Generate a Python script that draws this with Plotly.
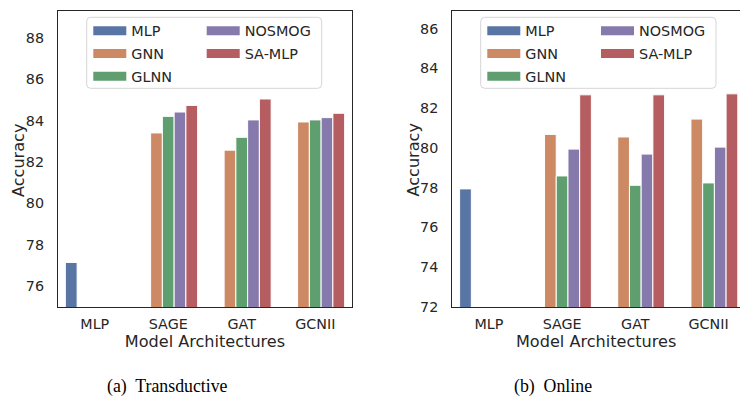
import plotly.graph_objects as go

# ---------------- data ----------------
categories = ["MLP", "SAGE", "GAT", "GCNII"]
methods = ["MLP", "GNN", "GLNN", "NOSMOG", "SA-MLP"]
colors = ["#5875a4", "#cc8963", "#5f9e6e", "#857aab", "#b55d60"]

trans_mlp = [77.15, None, None, None]
trans_gnn = [None, 83.40, 82.57, 83.93]
trans_glnn = [None, 84.20, 83.19, 84.03]
trans_nosmog = [None, 84.41, 84.03, 84.14]
trans_samlp = [None, 84.73, 85.04, 84.35]

online_mlp = [77.94, None, None, None]
online_gnn = [None, 80.68, 80.55, 81.45]
online_glnn = [None, 78.59, 78.12, 78.24]
online_nosmog = [None, 79.94, 79.69, 80.04]
online_samlp = [None, 82.67, 82.67, 82.72]

trans = [trans_mlp, trans_gnn, trans_glnn, trans_nosmog, trans_samlp]
online = [online_mlp, online_gnn, online_glnn, online_nosmog, online_samlp]

y_ticks_left = [76, 78, 80, 82, 84, 86, 88]
y_ticks_right = [72, 74, 76, 78, 80, 82, 84, 86]
captions = ["(a)  Transductive", "(b)  Online"]
x_title = "Model Architectures"
y_title = "Accuracy"

# ---------------- layout helpers ----------------
W, H = 740, 402
def px(x):
    return x / W
def py(y):
    return (H - y) / H

TXT = "#262626"
FONT = "DejaVu Sans"
FS_TICK = 14.3
FS_TITLE = 16.1
FS_LEG = 14.4

fig = go.Figure()

for i, m in enumerate(methods):
    fig.add_trace(go.Bar(x=categories, y=trans[i], name=m, marker=dict(color=colors[i], line=dict(color="white", width=1)),
                         xaxis="x", yaxis="y", showlegend=False, hoverinfo="skip"))
for i, m in enumerate(methods):
    fig.add_trace(go.Bar(x=categories, y=online[i], name=m, marker=dict(color=colors[i], line=dict(color="white", width=1)),
                         xaxis="x2", yaxis="y2", showlegend=False, hoverinfo="skip"))

# legend handles (column-major: 3 + 2)
legend_ids_left = ["legend", "legend", "legend", "legend2", "legend2"]
legend_ids_right = ["legend3", "legend3", "legend3", "legend4", "legend4"]
for i, m in enumerate(methods):
    fig.add_trace(go.Scatter(x=[None], y=[None], mode="lines", name=m, line=dict(color=colors[i], width=9),
                             xaxis="x", yaxis="y", legend=legend_ids_left[i], legendgroup="L" + m, showlegend=True))
for i, m in enumerate(methods):
    fig.add_trace(go.Scatter(x=[None], y=[None], mode="lines", name=m, line=dict(color=colors[i], width=9),
                             xaxis="x2", yaxis="y2", legend=legend_ids_right[i], legendgroup="R" + m, showlegend=True))

def legend_cfg(x, y):
    return dict(x=px(x), y=py(y), xanchor="left", yanchor="top", bgcolor="rgba(0,0,0,0)", borderwidth=0,
                font=dict(family=FONT, size=FS_LEG, color=TXT), itemwidth=33, tracegroupgap=1)

y_dom = [py(307), py(10.7)]

axis_common = dict(showline=True, linecolor=TXT, linewidth=1.25, showgrid=False, zeroline=False,
                   tickfont=dict(family=FONT, size=FS_TICK, color=TXT), ticks="")
title_font = dict(family=FONT, size=FS_TITLE, color=TXT)

fig.update_layout(
    width=W, height=H, margin=dict(l=0, r=0, t=0, b=0, autoexpand=False),
    paper_bgcolor="white", plot_bgcolor="white",
    barmode="group", bargap=0.2, bargroupgap=0,
    xaxis=dict(domain=[px(58), px(352)], range=[-0.5, 3.5], anchor="y", mirror=True,
               title=dict(text=x_title, font=title_font, standoff=4),
               ticklabelstandoff=4, **axis_common),
    yaxis=dict(domain=y_dom, range=[75, 89.3], anchor="x", mirror=True, tickvals=y_ticks_left,
               ticklabelstandoff=10, **axis_common),
    xaxis2=dict(domain=[px(452.3), 1.0], range=[-0.5, 3.43], anchor="y2", mirror=True,
                title=dict(text=x_title, font=title_font, standoff=4),
                ticklabelstandoff=4, **axis_common),
    yaxis2=dict(domain=y_dom, range=[72, 86.9], anchor="x2", mirror=False, tickvals=y_ticks_right,
                ticklabelstandoff=10, **axis_common),
    legend=legend_cfg(88.3, 15),
    legend2=legend_cfg(201.7, 15),
    legend3=legend_cfg(482.3, 15),
    legend4=legend_cfg(596, 15),
)

def rounded_box(x0, y0, x1, y1, r=4):
    rx, ry = r / W, r / H
    X0, X1 = px(x0), px(x1)
    Y0, Y1 = py(y0), py(y1)  # Y0 top, Y1 bottom
    return (f"M{X0+rx},{Y0} L{X1-rx},{Y0} Q{X1},{Y0} {X1},{Y0-ry} L{X1},{Y1+ry} Q{X1},{Y1} {X1-rx},{Y1} "
            f"L{X0+rx},{Y1} Q{X0},{Y1} {X0},{Y1+ry} L{X0},{Y0-ry} Q{X0},{Y0} {X0+rx},{Y0} Z")

for box in [(86.7, 17.3, 321.7, 88.3), (480.7, 17.3, 716, 88.3)]:
    fig.add_shape(type="path", path=rounded_box(*box), xref="paper", yref="paper",
                  fillcolor="white", line=dict(color="#d5d5d5", width=1), layer="below")

# y-axis titles
for cx in [18, 412.5]:
    fig.add_annotation(text=y_title, x=px(cx), y=py(160), xref="paper", yref="paper", showarrow=False,
                       textangle=-90, xanchor="center", yanchor="middle", font=title_font)

for text, cx in zip(captions, [167.5, 553]):
    fig.add_annotation(text=text, x=px(cx), y=py(386), xref="paper", yref="paper", showarrow=False,
                       xanchor="center", yanchor="middle", font=dict(family="Liberation Serif", size=17.8, color="black"))

fig.write_html("out.html", config={"displayModeBar": False},
               post_script="document.body.style.margin='0';document.body.style.overflow='hidden';")
